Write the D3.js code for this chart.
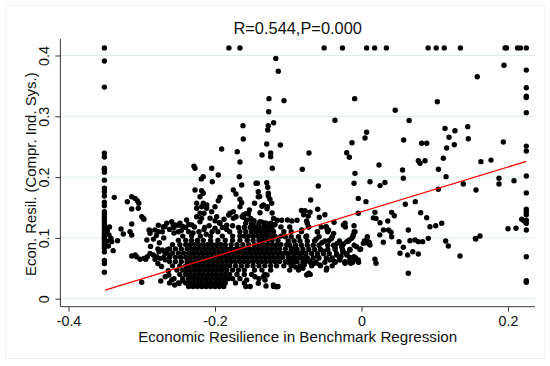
<!DOCTYPE html>
<html><head><meta charset="utf-8">
<script src="https://cdn.jsdelivr.net/npm/d3@7"></script>
<style>body{margin:0;background:#fff}svg{display:block}text{font-family:"Liberation Sans",Arial,sans-serif;fill:#111}</style>
</head><body><svg id="c" width="550" height="366"></svg>
<script>
// ---- data ----
const titleText = "R=0.544,P=0.000";
const xLabel = "Economic Resilience in Benchmark Regression";
const yLabel = "Econ. Resil. (Compr. Ind. Sys.)";
const xTicks = [-0.4, -0.2, 0, 0.2];
const yTicks = [0, 0.1, 0.2, 0.3, 0.4];
const fitLine = [[-0.35, 0.0142], [0.225, 0.2258]];

const capY = 0.4125;
const topRowX = [-0.351,-0.181,-0.166,-0.051,-0.026,0.007,0.018,0.034,0.091,0.102,0.113,0.135,0.196,0.198,0.213,0.217,0.225];
const leftColX = -0.351;
const leftColY = [0.391,0.348,0.2395,0.233,0.2145,0.212,0.208,0.195,0.1816,0.176,0.169,0.1586,0.153,0.143,0.139,0.135,0.131,0.1266,0.122,0.1178,0.1134,0.109,0.105,0.102,0.0997,0.097,0.0923,0.088,0.083,0.077,0.063,0.058,0.0434];
const rightColX = 0.225;
const rightColY = [0.376,0.347,0.333,0.331,0.306,0.251,0.243,0.2018,0.174,0.147,0.143,0.138,0.129,0.124,0.113,0.069,0.0296,0.027];

const denseRows = [
 [0.020,[-0.236,-0.230,-0.224,-0.218,-0.212,-0.206,-0.200,-0.194,-0.188,-0.158,-0.152,-0.120,-0.114]],
 [0.026,[-0.262,-0.250,-0.240,-0.234,-0.228,-0.222,-0.216,-0.210,-0.204,-0.198,-0.192,-0.186,-0.172,-0.160]],
 [0.033,[-0.256,-0.244,-0.236,-0.230,-0.224,-0.218,-0.212,-0.206,-0.200,-0.194,-0.188,-0.182,-0.176,-0.166,-0.140]],
 [0.040,[-0.248,-0.240,-0.234,-0.228,-0.222,-0.216,-0.210,-0.204,-0.198,-0.192,-0.186,-0.180,-0.170,-0.160,-0.150,-0.132]],
 [0.047,[-0.252,-0.244,-0.238,-0.232,-0.226,-0.220,-0.214,-0.208,-0.202,-0.196,-0.190,-0.184,-0.176,-0.168,-0.160,-0.146,-0.136,-0.124]],
 [0.054,[-0.258,-0.248,-0.240,-0.234,-0.228,-0.222,-0.216,-0.210,-0.204,-0.198,-0.192,-0.186,-0.180,-0.172,-0.164,-0.156,-0.148,-0.140,-0.132,-0.124,-0.116,-0.106]],
 [0.061,[-0.262,-0.254,-0.246,-0.238,-0.232,-0.226,-0.220,-0.214,-0.208,-0.202,-0.196,-0.190,-0.184,-0.178,-0.172,-0.166,-0.160,-0.154,-0.148,-0.142,-0.136,-0.130,-0.124,-0.118,-0.112,-0.104,-0.096,-0.088]],
 [0.068,[-0.270,-0.262,-0.254,-0.247,-0.240,-0.234,-0.228,-0.222,-0.216,-0.210,-0.204,-0.198,-0.192,-0.186,-0.180,-0.174,-0.168,-0.162,-0.156,-0.150,-0.144,-0.138,-0.132,-0.126,-0.120,-0.114,-0.108,-0.100,-0.092,-0.084,-0.076]],
 [0.075,[-0.266,-0.258,-0.250,-0.243,-0.236,-0.230,-0.224,-0.218,-0.212,-0.206,-0.200,-0.194,-0.188,-0.182,-0.176,-0.170,-0.164,-0.158,-0.152,-0.146,-0.140,-0.134,-0.128,-0.122,-0.116,-0.110,-0.104,-0.096,-0.088,-0.080]],
 [0.082,[-0.262,-0.254,-0.246,-0.238,-0.232,-0.226,-0.220,-0.214,-0.208,-0.202,-0.196,-0.190,-0.184,-0.178,-0.172,-0.166,-0.160,-0.154,-0.148,-0.142,-0.136,-0.130,-0.124,-0.118,-0.112,-0.104,-0.094]],
 [0.089,[-0.258,-0.248,-0.240,-0.234,-0.228,-0.222,-0.216,-0.210,-0.204,-0.198,-0.192,-0.186,-0.178,-0.170,-0.162,-0.154,-0.146,-0.140,-0.134,-0.128,-0.122,-0.116,-0.110,-0.102]],
 [0.096,[-0.250,-0.240,-0.232,-0.224,-0.216,-0.206,-0.196,-0.186,-0.176,-0.166,-0.156,-0.148,-0.140,-0.134,-0.128,-0.122,-0.114]],
 [0.103,[-0.244,-0.232,-0.220,-0.206,-0.190,-0.176,-0.166,-0.160,-0.154,-0.148,-0.142,-0.136,-0.130,-0.124,-0.118,-0.110]],
 [0.110,[-0.250,-0.236,-0.222,-0.196,-0.180,-0.166,-0.158,-0.150,-0.144,-0.138,-0.132,-0.126,-0.120]],
 [0.117,[-0.256,-0.240,-0.214,-0.190,-0.168,-0.160,-0.152,-0.146,-0.140,-0.134,-0.128,-0.122]],
 [0.124,[-0.158,-0.148,-0.140,-0.132,-0.124]]
];

const midRows = [
 [0.040,[-0.074,-0.070]],
 [0.047,[-0.098,-0.086,-0.048]],
 [0.054,[-0.096,-0.084,-0.068,-0.056,-0.040]],
 [0.060,[-0.100,-0.092,-0.080,-0.070,-0.062,-0.050,-0.036,-0.022,-0.012,-0.004]],
 [0.067,[-0.098,-0.090,-0.082,-0.074,-0.066,-0.058,-0.048,-0.040,-0.030,-0.016,-0.008]],
 [0.074,[-0.100,-0.092,-0.084,-0.076,-0.068,-0.060,-0.052,-0.044,-0.034,-0.020]],
 [0.081,[-0.096,-0.088,-0.080,-0.072,-0.064,-0.056,-0.046,-0.036,-0.026,-0.016,-0.002]],
 [0.088,[-0.098,-0.090,-0.082,-0.074,-0.066,-0.058,-0.046,-0.038,-0.026,-0.010]],
 [0.095,[-0.100,-0.092,-0.084,-0.074,-0.064,-0.050,-0.030,-0.018,0.004]],
 [0.102,[-0.104,-0.096,-0.086,-0.076,-0.058,-0.040,-0.012,0.008]],
 [0.110,[-0.106,-0.096,-0.082,-0.060,-0.046,-0.010]],
 [0.118,[-0.110,-0.098,-0.072,-0.048,-0.022]]
];

const scatterPts = [
 [-0.2287,0.218],[-0.2273,0.2145],
 [-0.117,0.395],[-0.1136,0.374],[-0.1263,0.329],[-0.1058,0.3257],[-0.0093,0.329],[-0.1267,0.3076],[-0.0362,0.2934],[-0.1199,0.2895],[-0.1618,0.2846],[-0.1272,0.2846],[-0.128,0.2775],[0.007,0.2737],[-0.1614,0.2627],[0.0048,0.2643],[-0.013,0.2566],[-0.1294,0.2544],[-0.1108,0.2528],[-0.1909,0.2462],[-0.1696,0.2418],[-0.1358,0.2363],[-0.124,0.2396],[-0.124,0.2336],[-0.0717,0.2396],[-0.0202,0.2401],[-0.0166,0.2326],[-0.1659,0.2248],[-0.2045,0.2145],[-0.1218,0.2145],[-0.0808,0.2128],
 [0.1945,0.384],[0.158,0.365],[0.1035,0.324],[0.046,0.31],[0.065,0.293],[0.0576,0.261],[0.082,0.2556],[0.089,0.2556],[0.114,0.28],[0.1195,0.2655],[0.1276,0.2763],[0.145,0.283],[0.1458,0.263],[0.1267,0.2533],[0.1163,0.2479],[0.1936,0.2577],[0.0239,0.22],[0.0776,0.227],[0.0799,0.2227],[0.0867,0.227],[0.1117,0.231],[0.163,0.2254],[0.1768,0.228],[0.105,0.213],[0.056,0.2117],
 [0.0571,0.198],[0.1154,0.2007],[0.1563,0.1788],[0.1877,0.198],[0.1877,0.1887],[0.2082,0.194],[0.1049,0.18],[0.139,0.1887],[-0.0102,0.19],[0.0116,0.1924],[0.0253,0.186],[0.032,0.191],[-0.0044,0.165],[0.0061,0.1596],[0.0598,0.1553],[0.0734,0.1596],[0.0184,0.142],[0.0161,0.133],[0.0198,0.132],[0.0412,0.142],[0.0448,0.1365],[0.0253,0.125],[0.0358,0.1278],[0.0808,0.1414],[0.089,0.1332],[0.0935,0.1184],[0.1013,0.12],[0.1095,0.124],[0.0639,0.113],[0.0403,0.1092],[0.0412,0.102],[0.0298,0.0928],[0.0512,0.0938],[0.0571,0.0845],[0.0526,0.0747],[0.063,0.0719],[0.0662,0.0954],[0.073,0.0965],[0.0776,0.0938],[0.0835,0.0938],[0.0912,0.0993],[0.07,0.0773],[0.0776,0.0735],[0.0639,0.0418],[0.1149,0.0949],[0.1185,0.0867],[0.1345,0.0702],[0.1559,0.0982],[0.1618,0.1031],[0.2109,0.1158],[0.2187,0.1306],[0.2218,0.1283],[0.0184,0.0648],[0.0198,0.0582],[0.0116,0.0883],
 [-0.0225,0.124],[-0.0102,0.12],[-0.0089,0.11],[-0.0112,0.1048],[-0.0134,0.0993],[-0.0167,0.0965],[-0.0202,0.0938],[-0.0248,0.09],[-0.027,0.0855],[-0.0257,0.0773],[-0.0202,0.0719],[-0.0157,0.068],[-0.0102,0.069],[-0.0044,0.0637],[-0.0225,0.0609],[-0.0147,0.0582],[-0.0011,0.0817],[0.0025,0.091],[0.0061,0.092],[0.0107,0.09],
 [0.0072,0.0965],[0.0105,0.093],[0.025,0.105],[0.03,0.113],[0.037,0.113],[-0.0089,0.2062],
 [-0.0694,0.1624],[-0.059,0.1853],[-0.0598,0.147],
 [-0.1955,0.2035],[-0.1668,0.2007],[-0.1636,0.187],[-0.2037,0.1924],[-0.1422,0.1898],[-0.1294,0.1908],[-0.128,0.1832],[-0.1272,0.1734],[-0.2182,0.1776],[-0.216,0.1734],[-0.175,0.1788],[-0.1713,0.1722],[-0.1932,0.1668],[-0.1955,0.1612],[-0.1659,0.1635],[-0.1636,0.158],[-0.1409,0.1678],[-0.1272,0.169],[-0.125,0.1635],[-0.1226,0.157],[-0.134,0.1541],[-0.1286,0.1513],[-0.1386,0.1414],
 [-0.216,0.157],[-0.2113,0.1487],[-0.215,0.1405],[-0.2068,0.1322],[-0.2,0.1283],[-0.1941,0.125],[-0.1877,0.1306],[-0.1813,0.1377],[-0.175,0.1431],[-0.1713,0.1349],[-0.1614,0.1339],[-0.1545,0.1393],[-0.1468,0.1283],[-0.1386,0.1266],[-0.1304,0.124],
 [-0.115,0.129],[-0.109,0.129],[-0.101,0.1295],[-0.095,0.128],[-0.088,0.129],[-0.082,0.145],[-0.079,0.138],[-0.075,0.128],[-0.074,0.124],[-0.0771,0.1447],[-0.0703,0.1421],[-0.0726,0.136],
 [-0.0576,0.1339],[-0.0816,0.113],[-0.0726,0.1184],[-0.0748,0.1031],[-0.0603,0.1102],[-0.0485,0.1184],[-0.0467,0.113],[-0.0375,0.1257],[-0.0248,0.1212],[-0.0044,0.1405],
 [-0.1567,0.0308],[-0.1454,0.0362],[-0.1409,0.0253],[-0.1317,0.0308],[-0.1304,0.0209],[-0.1204,0.0225],[-0.1158,0.0197],[-0.0748,0.039],[-0.072,0.042],[-0.0703,0.0609],[-0.0635,0.0582],[-0.0567,0.0554],[-0.0475,0.05],[-0.043,0.0637],[-0.0362,0.0609],[-0.0294,0.0637],[-0.0225,0.0582],[-0.0157,0.0609],[-0.0089,0.0648],[-0.0044,0.0609],[-0.0339,0.0719],[-0.0248,0.0773],[-0.0157,0.08],[-0.0066,0.0855],[-0.134,0.036],[-0.129,0.039],[-0.0766,0.061],[-0.078,0.056],
 [-0.225,0.1487],[-0.2205,0.1405],[-0.2182,0.1322],[-0.2113,0.1541],[-0.2045,0.1431],[-0.2,0.1513],[-0.1977,0.1349],[-0.1932,0.124],[-0.184,0.121],[-0.1795,0.1405],[-0.175,0.1322],[-0.1659,0.1513],[-0.1614,0.1377],[-0.1568,0.1294],
 [-0.216,0.2007],[-0.2273,0.1788],[-0.2205,0.1678],[-0.225,0.157],[-0.2182,0.1513],[-0.225,0.1349],[-0.2205,0.1266],[-0.2318,0.1212],[-0.2387,0.1294],[-0.2478,0.124],[-0.2546,0.1212],[-0.2591,0.1266],[-0.266,0.124],[-0.2706,0.1184],[-0.2774,0.1102],[-0.2887,0.1118],[-0.2187,0.197],
 [-0.144,0.19],[-0.141,0.176],[-0.139,0.168],[-0.146,0.157],[-0.136,0.152],[-0.153,0.146],[-0.158,0.14],[-0.151,0.132],[-0.163,0.135],
 [-0.05,0.138],[-0.055,0.118],[-0.045,0.113],[-0.038,0.1075],[-0.041,0.099],[-0.033,0.091],
 [-0.129,0.148],[-0.122,0.141],[-0.12,0.132],
 [-0.3375,0.1667],[-0.3197,0.1595],[-0.3137,0.1678],[-0.309,0.165],[-0.306,0.161],[-0.304,0.157],[-0.3137,0.1475],[-0.3047,0.1487],[-0.3137,0.1229],[-0.3,0.135],[-0.297,0.1306],[-0.3283,0.1146],[-0.3252,0.1064],[-0.3137,0.1048],[-0.316,0.11],[-0.339,0.079],[-0.333,0.0954],[-0.293,0.0965],[-0.29,0.113],
 [-0.3447,0.105],[-0.342,0.0993],[-0.341,0.0938],[-0.3456,0.0867],[-0.347,0.112],[-0.344,0.118],[-0.348,0.095],
 [-0.3137,0.0702],[-0.307,0.069],[-0.3023,0.0648],[-0.297,0.0664],[-0.2924,0.069],[-0.2887,0.0746],[-0.2843,0.0719],[-0.2796,0.069],[-0.2765,0.0773],[-0.272,0.0801],[-0.2683,0.0746],[-0.2647,0.0812],[-0.2614,0.0719],[-0.2751,0.0664],[-0.2819,0.0648],[-0.309,0.0719],[-0.2946,0.0648],
 [-0.3,0.027],[-0.274,0.029],
 [-0.298,0.1322],[-0.2887,0.1076],[-0.282,0.113],[-0.2774,0.121],[-0.2683,0.1184],[-0.257,0.121],[-0.284,0.098],[-0.276,0.092],[-0.288,0.086],[-0.278,0.082],[-0.27,0.1],[-0.272,0.11],[-0.28,0.104],
 [-0.263,0.039],[-0.268,0.036],[-0.259,0.031],[-0.255,0.0225],[-0.249,0.025],[-0.244,0.0296],[-0.273,0.053],[-0.278,0.058],[-0.268,0.064],[-0.2638,0.046],
 [-0.25,0.121],[-0.244,0.119],[-0.236,0.122],[-0.228,0.118],[-0.215,0.114],[-0.208,0.12],[-0.2,0.116],[-0.184,0.114],[-0.176,0.12],[-0.15,0.124],[-0.144,0.118],[-0.136,0.126],[-0.118,0.122],
 [-0.262,0.114],[-0.256,0.108],[-0.246,0.112],[-0.23,0.108],[-0.212,0.106],[-0.204,0.11],
 [-0.062,0.098],[-0.054,0.092],[-0.044,0.096],[-0.036,0.084],[-0.028,0.07],[-0.09,0.052],[-0.08,0.05],[-0.052,0.078],[-0.06,0.07],
 [0.1555,0.0993],[0.2,0.115]
];

// ---- assemble points ----
const pts = [];
topRowX.forEach(v => pts.push([v, capY]));
leftColY.forEach(v => pts.push([leftColX, v]));
rightColY.forEach(v => pts.push([rightColX, v]));
denseRows.forEach(([yy, xs]) => xs.forEach(v => pts.push([v, yy])));
midRows.forEach(([yy, xs]) => xs.forEach(v => pts.push([v, yy])));
scatterPts.forEach(p => pts.push(p));

// ---- drawing ----
const svg = d3.select("#c");
const L = 60.4, R = 535, T = 39, B = 306.7;
const x = d3.scaleLinear().domain([-0.4, 0.2]).range([68.5, 508]);
const y = d3.scaleLinear().domain([0, 0.4]).range([298.7, 55.5]);

svg.append("rect").attr("x",5.5).attr("y",5.5).attr("width",539).attr("height",353)
  .attr("fill","none").attr("stroke","#e9f2f4").attr("stroke-width",1);

svg.append("g").selectAll("line").data(yTicks).join("line")
  .attr("x1", L).attr("x2", R).attr("y1", d => y(d)).attr("y2", d => y(d))
  .attr("stroke", "#deecef").attr("stroke-width", 1);

svg.append("g").selectAll("circle").data(pts).join("circle")
  .attr("cx", d => x(d[0])).attr("cy", d => y(d[1])).attr("r", 2.7).attr("fill", "#000");

svg.append("line").attr("x1", x(fitLine[0][0])).attr("y1", y(fitLine[0][1]))
  .attr("x2", x(fitLine[1][0])).attr("y2", y(fitLine[1][1]))
  .attr("stroke", "#ff0000").attr("stroke-width", 1.3);

const axisColor = "#3a3a3a";
const gx = svg.append("g").attr("transform", `translate(0,${B})`)
  .call(d3.axisBottom(x).tickValues(xTicks).tickSize(5).tickSizeOuter(0).tickPadding(4).tickFormat(d => String(d)));
gx.select(".domain").remove();
gx.selectAll("line").attr("stroke", axisColor);
gx.selectAll("text").attr("font-size", 14.3).attr("font-family", "Liberation Sans, Arial, sans-serif").attr("fill","#111").attr("dy", "0.71em");

const gy = svg.append("g").attr("transform", `translate(${L},0)`)
  .call(d3.axisLeft(y).tickValues(yTicks).tickSize(5).tickSizeOuter(0).tickFormat(d => String(d)));
gy.select(".domain").remove();
gy.selectAll("line").attr("stroke", axisColor);
gy.selectAll("text").attr("transform", "rotate(-90)").attr("x", 0).attr("y", -11).attr("dy", 0)
  .attr("text-anchor", "middle").attr("font-size", 14.3).attr("font-family", "Liberation Sans, Arial, sans-serif").attr("fill","#111");

svg.append("line").attr("x1", L).attr("x2", R).attr("y1", B).attr("y2", B).attr("stroke", axisColor).attr("stroke-width", 1);
svg.append("line").attr("x1", L).attr("x2", L).attr("y1", T).attr("y2", B).attr("stroke", axisColor).attr("stroke-width", 1);

svg.append("text").attr("x", 297.7).attr("y", 34).attr("text-anchor", "middle").attr("font-size", 16.4).text(titleText);
svg.append("text").attr("x", 297.7).attr("y", 342).attr("text-anchor", "middle").attr("font-size", 15.2).text(xLabel);
svg.append("text").attr("transform", "translate(36,174.2) rotate(-90)").attr("text-anchor", "middle").attr("font-size", 14.9).text(yLabel);
</script></body></html>
